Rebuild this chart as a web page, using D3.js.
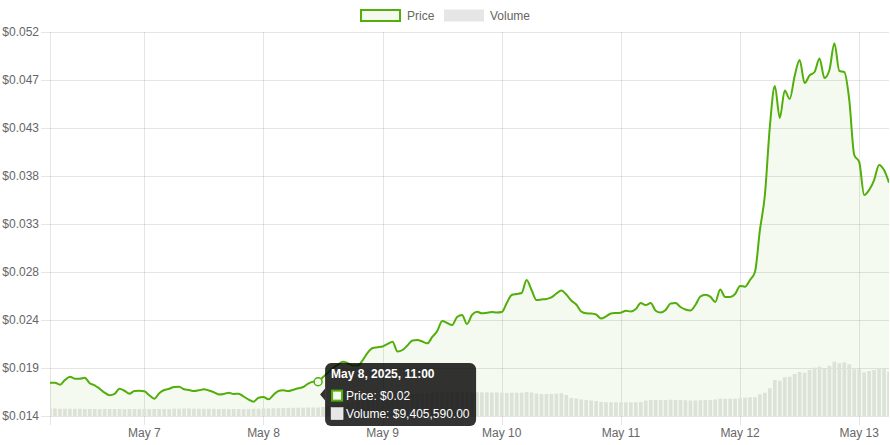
<!DOCTYPE html>
<html>
<head>
<meta charset="utf-8">
<script src="https://cdn.jsdelivr.net/npm/d3@7"></script>
<style>
  body { margin: 0; background: #fff; }
  svg { display: block; font-family: "Liberation Sans", Arial, Helvetica, sans-serif; }
</style>
</head>
<body>
<svg id="chart" width="890" height="445"></svg>
<script>
//
// Data
//

// first hourly sample, local time
var startTime = new Date(2025, 4, 6, 5, 0)

// hourly price, USD
var price = [
  0.01730, 0.01730, 0.01710, 0.01756, 0.01789, 0.01769, 0.01769, 0.01779, 0.01724, 0.01704,
  0.01670, 0.01631, 0.01605, 0.01618, 0.01670, 0.01650, 0.01621, 0.01647, 0.01650, 0.01644,
  0.01605, 0.01571, 0.01625, 0.01657, 0.01670, 0.01687, 0.01690, 0.01664, 0.01657, 0.01647,
  0.01654, 0.01664, 0.01652, 0.01635, 0.01613, 0.01618, 0.01631, 0.01618, 0.01621, 0.01593,
  0.01563, 0.01542, 0.01581, 0.01588, 0.01565, 0.01608, 0.01647, 0.01654, 0.01647, 0.01660,
  0.01674, 0.01687, 0.01720, 0.01739, 0.01739, 0.01786, 0.01830, 0.01875, 0.01908, 0.01937,
  0.01922, 0.01900, 0.01900, 0.01954, 0.02028, 0.02073, 0.02080, 0.02088, 0.02113, 0.02135,
  0.02038, 0.02053, 0.02098, 0.02147, 0.02152, 0.02137, 0.02119, 0.02182, 0.02241, 0.02340,
  0.02320, 0.02301, 0.02380, 0.02400, 0.02310, 0.02400, 0.02432, 0.02416, 0.02422, 0.02429,
  0.02424, 0.02429, 0.02518, 0.02597, 0.02607, 0.02617, 0.02746, 0.02647, 0.02548, 0.02553,
  0.02558, 0.02573, 0.02612, 0.02642, 0.02602, 0.02543, 0.02503, 0.02434, 0.02416, 0.02414,
  0.02404, 0.02365, 0.02385, 0.02414, 0.02419, 0.02422, 0.02442, 0.02434, 0.02459, 0.02518,
  0.02498, 0.02518, 0.02442, 0.02424, 0.02449, 0.02513, 0.02518, 0.02479, 0.02454, 0.02444,
  0.02498, 0.02583, 0.02600, 0.02581, 0.02528, 0.02652, 0.02578, 0.02578, 0.02607, 0.02686,
  0.02680, 0.02746, 0.02825, 0.03241, 0.03587, 0.04263, 0.04666, 0.04349, 0.04621, 0.04537,
  0.04765, 0.04923, 0.04695, 0.04770, 0.04804, 0.04938, 0.04745, 0.04824, 0.05088, 0.04814,
  0.04804, 0.04527, 0.03983, 0.03914, 0.03587, 0.03637, 0.03735, 0.03884, 0.03834, 0.03709
]

// hourly volume, millions of USD
var volume = [
  8.30, 8.30, 8.08, 8.08, 7.97, 7.97, 7.97, 7.75, 7.75, 7.75,
  7.75, 7.75, 7.75, 7.75, 7.75, 7.75, 7.75, 7.75, 7.75, 7.75,
  7.75, 7.75, 7.75, 7.75, 7.75, 8.08, 8.08, 8.30, 8.30, 8.08,
  8.08, 7.97, 7.97, 7.97, 7.75, 7.75, 7.75, 7.75, 7.75, 7.75,
  7.75, 7.97, 8.08, 8.30, 8.30, 8.52, 8.63, 8.85, 8.85, 9.07,
  9.18, 9.18, 9.30, 9.38, 9.40559, 9.96, 10.51, 11.07, 12.17, 13.28,
  14.39, 15.49, 16.60, 17.71, 18.81, 19.92, 20.47, 21.03, 21.58, 22.13,
  22.69, 23.24, 23.79, 24.35, 24.90, 25.45, 25.45, 26.01, 26.01, 26.01,
  26.23, 26.23, 26.23, 26.23, 26.23, 26.23, 26.23, 26.23, 26.23, 26.01,
  26.01, 25.78, 25.45, 25.78, 25.78, 25.78, 26.56, 26.01, 24.90, 24.35,
  24.35, 24.35, 24.68, 25.12, 23.24, 19.92, 19.37, 18.26, 17.71, 17.15,
  16.60, 15.49, 15.16, 15.16, 15.16, 15.16, 15.16, 15.16, 15.16, 15.49,
  17.15, 17.71, 17.71, 17.71, 17.71, 18.04, 17.71, 17.71, 17.37, 17.15,
  17.15, 17.37, 17.71, 17.71, 18.26, 19.14, 19.14, 19.14, 19.14, 19.59,
  20.25, 20.69, 20.69, 24.01, 25.78, 30.65, 39.84, 39.06, 42.83, 43.49,
  46.48, 48.69, 47.92, 50.90, 53.45, 54.56, 52.78, 55.66, 60.09, 58.32,
  59.42, 57.21, 51.68, 51.68, 48.36, 49.80, 50.90, 52.78, 52.01, 49.02
]

var yTickLabels = ['$0.014', '$0.019', '$0.024', '$0.028', '$0.033', '$0.038', '$0.043', '$0.047', '$0.052']
var yMin = 0.014
var yMax = 0.052
var volumeMax = 425
var hoverIndex = 54

//
// Configuration
//

var width = 890
var height = 445
var plot = { left: 50, right: 889, top: 32, bottom: 416 }
var colorLine = '#52ae0a'
var colorArea = 'rgba(82,174,10,0.06)'
var colorBar = '#e6e6e6'
var colorGrid = 'rgba(0,0,0,0.1)'
var colorText = '#666'

//
// Scales
//

var times = price.map(function(d, i) { return d3.timeHour.offset(startTime, i) })

var x = d3.scaleTime()
  .domain([times[0], times[times.length - 1]])
  .range([plot.left, plot.right])

var y = d3.scaleLinear()
  .domain([yMin, yMax])
  .range([plot.bottom, plot.top])

var yVol = d3.scaleLinear()
  .domain([0, volumeMax])
  .range([plot.bottom, plot.top])

var yTicks = yTickLabels.map(function(d, i) {
  return yMin + i * (yMax - yMin) / (yTickLabels.length - 1)
})
var xTicks = d3.timeDay.range(d3.timeDay.ceil(times[0]), times[times.length - 1])
var xFormat = d3.timeFormat('%b %-d')

var svg = d3.select('#chart')

svg.append('defs').append('clipPath').attr('id', 'clip')
  .append('rect')
  .attr('x', plot.left).attr('y', plot.top)
  .attr('width', plot.right - plot.left).attr('height', plot.bottom - plot.top)

//
// Grid and axes
//

svg.append('g').selectAll('line').data(yTicks).enter().append('line')
  .attr('x1', plot.left - 9).attr('x2', plot.right)
  .attr('y1', function(d) { return Math.round(y(d)) + 0.5 })
  .attr('y2', function(d) { return Math.round(y(d)) + 0.5 })
  .attr('stroke', colorGrid)

svg.append('g').selectAll('line').data(xTicks).enter().append('line')
  .attr('x1', function(d) { return Math.round(x(d)) + 0.5 })
  .attr('x2', function(d) { return Math.round(x(d)) + 0.5 })
  .attr('y1', plot.top).attr('y2', plot.bottom + 9)
  .attr('stroke', colorGrid)

svg.append('line')
  .attr('x1', plot.left + 0.5).attr('x2', plot.left + 0.5)
  .attr('y1', plot.top).attr('y2', plot.bottom + 9)
  .attr('stroke', colorGrid)

svg.append('g').selectAll('text').data(yTicks).enter().append('text')
  .attr('x', plot.left - 11)
  .attr('y', function(d) { return y(d) })
  .attr('dy', '0.35em')
  .attr('text-anchor', 'end')
  .attr('font-size', 12)
  .attr('fill', colorText)
  .text(function(d, i) { return yTickLabels[i] })

svg.append('g').selectAll('text').data(xTicks).enter().append('text')
  .attr('x', function(d) { return x(d) })
  .attr('y', 437)
  .attr('text-anchor', 'middle')
  .attr('font-size', 12)
  .attr('fill', colorText)
  .text(xFormat)

//
// Marks
//

var barWidth = (x(times[1]) - x(times[0])) * 0.74
var marks = svg.append('g').attr('clip-path', 'url(#clip)')

marks.selectAll('rect').data(volume).enter().append('rect')
  .attr('x', function(d, i) { return x(times[i]) - barWidth / 2 })
  .attr('y', function(d) { return yVol(d) })
  .attr('width', barWidth)
  .attr('height', function(d) { return plot.bottom - yVol(d) })
  .attr('fill', colorBar)

var area = d3.area()
  .x(function(d, i) { return x(times[i]) })
  .y0(plot.bottom)
  .y1(function(d) { return y(d) })
  .curve(d3.curveMonotoneX)

var line = d3.line()
  .x(function(d, i) { return x(times[i]) })
  .y(function(d) { return y(d) })
  .curve(d3.curveMonotoneX)

marks.append('path').datum(price)
  .attr('d', area)
  .attr('fill', colorArea)

marks.append('path').datum(price)
  .attr('d', line)
  .attr('fill', 'none')
  .attr('stroke', colorLine)
  .attr('stroke-width', 2)
  .attr('stroke-linejoin', 'round')

//
// Legend
//

var legend = svg.append('g').attr('font-size', 12).attr('fill', colorText)
legend.append('rect')
  .attr('x', 361).attr('y', 10).attr('width', 39).attr('height', 11)
  .attr('fill', '#f4faf0').attr('stroke', colorLine).attr('stroke-width', 2)
legend.append('text').attr('x', 407).attr('y', 20).text('Price')
legend.append('rect')
  .attr('x', 444).attr('y', 9.5).attr('width', 40).attr('height', 12)
  .attr('fill', colorBar)
legend.append('text').attr('x', 490).attr('y', 20).text('Volume')

//
// Hover state
//

var hx = x(times[hoverIndex])
var hy = y(price[hoverIndex])

svg.append('circle')
  .attr('cx', hx).attr('cy', hy).attr('r', 4)
  .attr('fill', '#f4faf0').attr('stroke', colorLine).attr('stroke-width', 1.5)

var tipW = 151
var tipH = 63
var tipX = hx + 7
var tipCy = (hy + yVol(volume[hoverIndex])) / 2
var tipY = tipCy - tipH / 2
var tip = svg.append('g')

tip.append('rect')
  .attr('x', tipX).attr('y', tipY).attr('width', tipW).attr('height', tipH)
  .attr('rx', 6).attr('fill', 'rgba(0,0,0,0.8)')
tip.append('path')
  .attr('d', 'M' + tipX + ',' + (tipCy - 6) + 'L' + (tipX - 5) + ',' + tipCy + 'L' + tipX + ',' + (tipCy + 6) + 'Z')
  .attr('fill', 'rgba(0,0,0,0.8)')

tip.append('text')
  .attr('x', tipX + 6).attr('y', tipY + 15)
  .attr('font-size', 12).attr('font-weight', 'bold').attr('fill', '#fff')
  .text(d3.timeFormat('%b %-d, %Y, %H:%M')(times[hoverIndex]))

tip.append('rect')
  .attr('x', tipX + 7).attr('y', tipY + 27.5).attr('width', 10).attr('height', 10)
  .attr('fill', '#f4faf0').attr('stroke', colorLine).attr('stroke-width', 2)
tip.append('text')
  .attr('x', tipX + 21).attr('y', tipY + 37)
  .attr('font-size', 12).attr('fill', '#fff')
  .text('Price: $' + d3.format('.2f')(price[hoverIndex]))

tip.append('rect')
  .attr('x', tipX + 6).attr('y', tipY + 44.5).attr('width', 12).attr('height', 12)
  .attr('fill', colorBar).attr('stroke', '#fff').attr('stroke-width', 0.5)
tip.append('text')
  .attr('x', tipX + 21).attr('y', tipY + 55)
  .attr('font-size', 12).attr('fill', '#fff')
  .text('Volume: $' + d3.format(',.2f')(Math.round(volume[hoverIndex] * 1e6)))
</script>
</body>
</html>
